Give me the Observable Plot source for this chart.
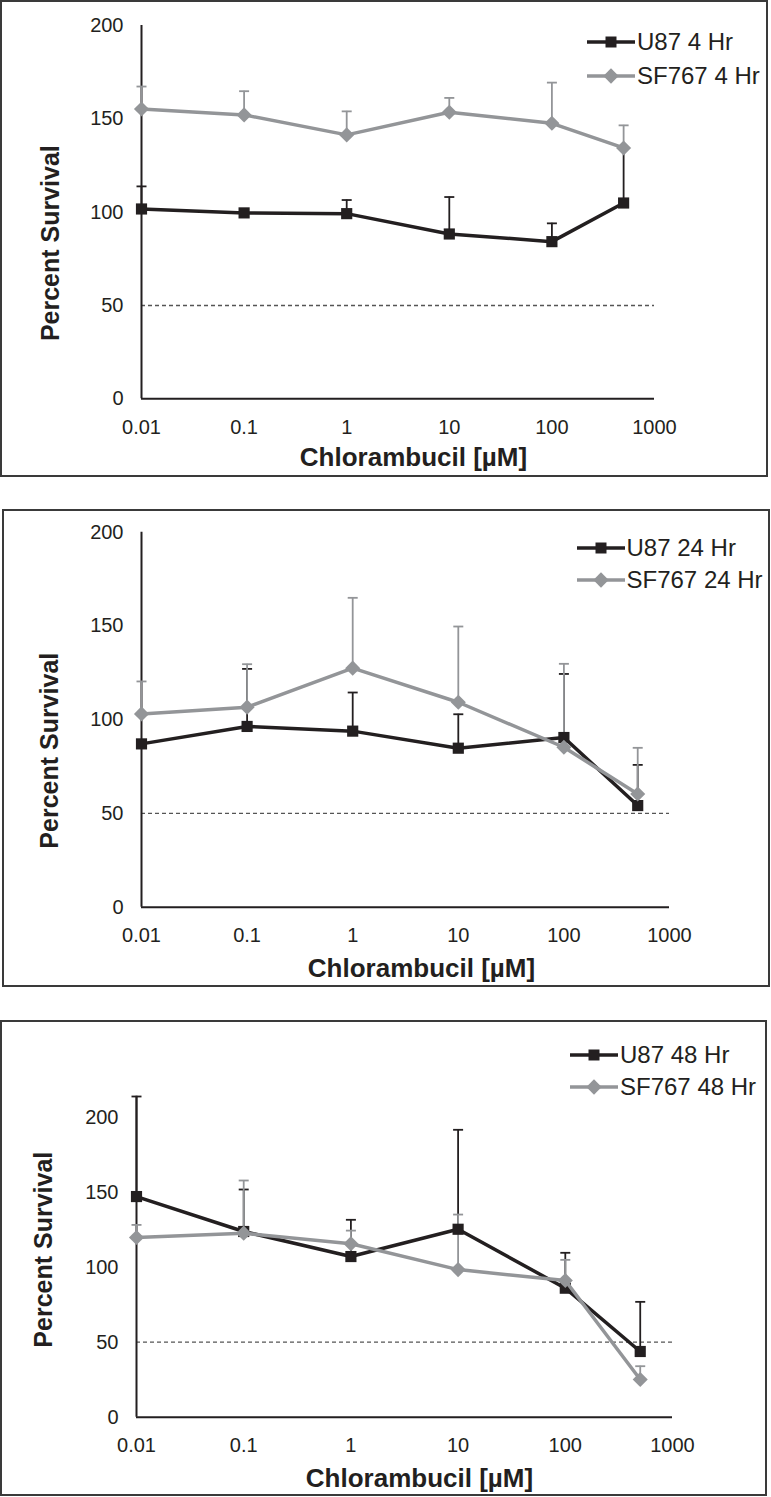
<!DOCTYPE html>
<html>
<head>
<meta charset="utf-8">
<script src="https://cdn.jsdelivr.net/npm/d3@7"></script>
<script src="https://cdn.jsdelivr.net/npm/@observablehq/plot@0.6"></script>
<style>
  html, body { margin: 0; padding: 0; background: #fff; }
  body { width: 771px; height: 1497px; position: relative; overflow: hidden;
         font-family: "Liberation Sans", Arial, Helvetica, sans-serif; color: #231f20; }
  .panel { position: absolute; box-sizing: border-box; border: 2px solid #3a3a3a; background: #fff; }
  .panel > svg { position: absolute; left: 0; top: 0; overflow: visible; }
  .lg-row { position: absolute; display: flex; align-items: center; height: 24px; font-size: 24px; white-space: nowrap; }
  .lg-row svg { display: block; }
  .lg-row span { margin-left: 2px; line-height: 24px; }
</style>
</head>
<body>
<script>
// ---------------- data ----------------
const concentrations = [0.01, 0.1, 1, 10, 100, 500];      // Chlorambucil [µM]
const xTickValues = [0.01, 0.1, 1, 10, 100, 1000];
const yTickValues = [0, 50, 100, 150, 200];
const xTitle = "Chlorambucil [µM]";
const yTitle = "Percent Survival";

// 4 hour
const u87_4h = [101.7, 99.6, 99.2, 88.3, 84.2, 104.9];
const u87_4h_errTop = [113.8, null, 106.5, 108.1, 94.0, 134.0];
const sf767_4h = [155.3, 152.1, 141.4, 153.5, 147.6, 134.4];
const sf767_4h_errTop = [167.3, 164.8, 154.0, 161.2, 169.4, 146.5];
const names_4h = ["U87 4 Hr", "SF767 4 Hr"];

// 24 hour
const u87_24h = [87.1, 96.4, 93.9, 84.8, 90.5, 54.2];
const u87_24h_errTop = [null, 127.1, 114.5, 102.9, 124.4, 75.9];
const sf767_24h = [103.1, 106.7, 127.5, 109.3, 85.3, 60.4];
const sf767_24h_errTop = [120.4, 129.6, 165.0, 149.7, 129.8, 85.0];
const names_24h = ["U87 24 Hr", "SF767 24 Hr"];

// 48 hour
const u87_48h = [147.1, 123.8, 107.1, 125.3, 86.0, 43.8];
const u87_48h_errTop = [213.8, 151.8, 131.6, 191.6, 109.6, 76.9];
const sf767_48h = [119.8, 122.7, 115.6, 98.4, 91.1, 25.1];
const sf767_48h_errTop = [128.2, 157.8, 124.4, 135.1, 104.9, 34.0];
const names_48h = ["U87 48 Hr", "SF767 48 Hr"];

const refLine = [50];

// ---------------- styles / layout ----------------
const BLACK = "#231f20";
const GRAY = "#939598";
const FONT = '"Liberation Sans", Arial, Helvetica, sans-serif';

const layouts = [
  { box: {left: 0, top: 0, width: 768, height: 477},
    m: {l: 139, r: 112, t: 23, b: 76.7}, yMax: 200,
    yT: {dx: -90.5, dy: 31}, xT: {dx: 15.5, dy: 58.7},
    lg: {x: 587, y1: 41.7, y2: 76} },
  { box: {left: 2, top: 509, width: 768, height: 478},
    m: {l: 137, r: 99, t: 20.7, b: 78.3}, yMax: 200,
    yT: {dx: -92, dy: 31}, xT: {dx: 16, dy: 61.3},
    lg: {x: 576.5, y1: 548.3, y2: 580} },
  { box: {left: 0, top: 1020, width: 767, height: 476},
    m: {l: 134, r: 93, t: 73.7, b: 77.3}, yMax: 214,
    yT: {dx: -93, dy: -7}, xT: {dx: 15, dy: 61.3},
    lg: {x: 570, y1: 1055, y2: 1086.7} }
];

const panelData = [
  {u: u87_4h, uE: u87_4h_errTop, s: sf767_4h, sE: sf767_4h_errTop, names: names_4h},
  {u: u87_24h, uE: u87_24h_errTop, s: sf767_24h, sE: sf767_24h_errTop, names: names_24h},
  {u: u87_48h, uE: u87_48h_errTop, s: sf767_48h, sE: sf767_48h_errTop, names: names_48h}
];

const capSymbol = { draw(ctx) { ctx.moveTo(-5, 0); ctx.lineTo(5, 0); } };

function toRows(values, errTop) {
  return concentrations.map((c, i) => ({c, v: values[i], e: errTop[i]}));
}

function drawPanel(d, L) {
  const u = toRows(d.u, d.uE), s = toRows(d.s, d.sE);
  const uErr = u.filter(r => r.e != null), sErr = s.filter(r => r.e != null);
  const W = L.box.width - 4, H = L.box.height - 4;

  const chart = Plot.plot({
    width: W, height: H,
    marginLeft: L.m.l, marginRight: L.m.r, marginTop: L.m.t, marginBottom: L.m.b,
    style: {fontFamily: FONT, fontSize: "20px", color: BLACK, background: "transparent", overflow: "visible"},
    x: {type: "log", domain: [0.01, 1000]},
    y: {domain: [0, L.yMax]},
    marks: [
      Plot.ruleY(refLine, {x1: 0.01, x2: 1000, stroke: "#555", strokeWidth: 1.3, strokeDasharray: "4,3"}),
      Plot.ruleX([0.01], {y1: 0, y2: L.yMax, stroke: BLACK, strokeWidth: 2}),
      Plot.ruleY([0], {x1: 0.01, x2: 1000, stroke: BLACK, strokeWidth: 2}),
      Plot.axisY({ticks: yTickValues, tickSize: 0, tickPadding: 18, fontSize: 20, label: null, fill: BLACK}),
      Plot.axisX({ticks: xTickValues, tickSize: 0, tickPadding: 21, fontSize: 20, label: null, fill: BLACK,
                  tickFormat: v => String(v)}),
      // error bars
      Plot.ruleX(uErr, {x: "c", y1: "v", y2: "e", stroke: BLACK, strokeWidth: 1.8}),
      Plot.dot(uErr, {x: "c", y: "e", symbol: capSymbol, stroke: BLACK, strokeWidth: 1.8, fill: "none"}),
      Plot.ruleX(sErr, {x: "c", y1: "v", y2: "e", stroke: GRAY, strokeWidth: 1.8}),
      Plot.dot(sErr, {x: "c", y: "e", symbol: capSymbol, stroke: GRAY, strokeWidth: 1.8, fill: "none"}),
      // series
      Plot.line(u, {x: "c", y: "v", stroke: BLACK, strokeWidth: 3.5}),
      Plot.dot(u, {x: "c", y: "v", symbol: "square", r: 6.3, fill: BLACK, stroke: "none"}),
      Plot.line(s, {x: "c", y: "v", stroke: GRAY, strokeWidth: 3.5}),
      Plot.dot(s, {x: "c", y: "v", symbol: "diamond2", r: 6.8, fill: GRAY, stroke: "none"}),
      // axis titles
      Plot.text([yTitle], {frameAnchor: "left", rotate: -90, dx: L.yT.dx, dy: L.yT.dy,
                           textAnchor: "middle", lineAnchor: "middle",
                           fontSize: 25, fontWeight: "bold", fill: BLACK}),
      Plot.text([xTitle], {frameAnchor: "bottom", dx: L.xT.dx, dy: L.xT.dy,
                           textAnchor: "middle", lineAnchor: "middle",
                           fontSize: 26, fontWeight: "bold", fill: BLACK})
    ]
  });

  const panel = document.createElement("div");
  panel.className = "panel";
  Object.assign(panel.style, {left: L.box.left + "px", top: L.box.top + "px",
                              width: L.box.width + "px", height: L.box.height + "px"});
  panel.appendChild(chart);
  document.body.appendChild(panel);

  // legend
  const entries = [
    {name: d.names[0], color: BLACK, sym: d3.symbolSquare, size: 121, y: L.lg.y1},
    {name: d.names[1], color: GRAY, sym: d3.symbolDiamond2, size: 150, y: L.lg.y2}
  ];
  for (const e of entries) {
    const row = d3.select(document.body).append("div").attr("class", "lg-row")
      .style("left", L.lg.x + "px").style("top", (e.y - 12) + "px");
    const svg = row.append("svg").attr("width", 48).attr("height", 24);
    svg.append("line").attr("x1", 0).attr("x2", 48).attr("y1", 12).attr("y2", 12)
      .attr("stroke", e.color).attr("stroke-width", 3.5);
    svg.append("path").attr("transform", "translate(24,12)")
      .attr("d", d3.symbol(e.sym, e.size)()).attr("fill", e.color);
    row.append("span").text(e.name);
  }
}

panelData.forEach((d, i) => drawPanel(d, layouts[i]));
</script>
</body>
</html>
